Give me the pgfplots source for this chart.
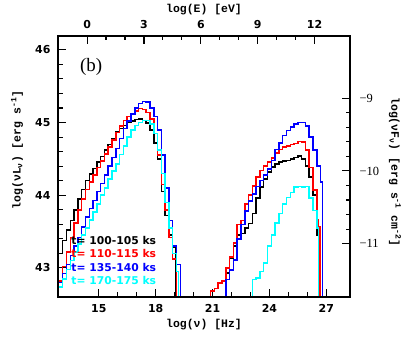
\documentclass[border=0pt]{standalone}
\usepackage{fontspec}
\usepackage{pgfplots}
\pgfplotsset{compat=1.18}
\setmainfont{DejaVu Sans}
\newfontfamily\labfont{Liberation Mono}
\newfontfamily\serifont{Liberation Serif}
\definecolor{cy}{rgb}{0,1,1}
\definecolor{rd}{rgb}{1,0,0}
\definecolor{bl}{rgb}{0,0,1}

\pgfplotsset{
  sedbox/.style={
    scale only axis, width=292bp, height=261bp,
    at={(0,0)}, anchor=south west,
    tick align=inside,
    major tick length=8bp, minor tick length=4.5bp,
    tick style={black, line width=1.1bp},
    minor tick style={black, line width=1.1bp},
    axis line style={line width=1.3bp},
    tick label style={font=\fontsize{11}{13}\selectfont\bfseries},
    label style={font=\fontsize{11.5}{13}\selectfont\labfont\bfseries},
    /pgf/number format/assume math mode=true,
  },
  hist/.style={const plot, line width=1.5bp},
}

\begin{document}
\begin{tikzpicture}
\path[use as bounding box] (-58bp,-40bp) rectangle (349bp,297bp);

% main axis: log(nu) vs log(nu L_nu)
\begin{axis}[sedbox,
  xmin=12.85, xmax=28.25, ymin=42.6, ymax=46.19,
  xtick={15,18,21,24,27}, minor x tick num=2,
  ytick={43,44,45,46}, minor y tick num=4,
  xtick pos=left, ytick pos=left,
  xticklabel style={yshift=-4bp},
  yticklabel style={xshift=-4bp},
  xlabel={log(ν) [Hz]},
  ylabel={log(νL\textsubscript{ν}) [erg s\textsuperscript{-1}]},
  xlabel style={at={(axis description cs:0.5,-0.1073)}, anchor=center},
  ylabel style={at={(axis description cs:-0.1404,0.563)}, anchor=center},
]
% synchrotron hump
\addplot[hist, black] coordinates {
(12.8,43.20)(13.1,43.38)(13.3,43.52)(13.5,43.65)(13.7,43.80)(13.9,43.95)(14.1,44.08)(14.3,44.20)
(14.5,44.29)(14.7,44.37)(14.9,44.46)(15.1,44.53)(15.3,44.62)(15.5,44.70)(15.7,44.78)(15.9,44.87)
(16.1,44.92)(16.3,44.96)(16.5,45.00)(16.7,45.02)(16.9,45.04)(17.1,45.05)(17.3,45.03)(17.5,44.99)
(17.7,44.90)(17.9,44.72)(18.1,44.50)(18.3,44.05)(18.5,43.72)(18.7,43.45)(18.9,43.28)(19.05,42.0)
};
\addplot[hist, rd] coordinates {
(12.8,42.82)(13.1,43.02)(13.3,43.22)(13.5,43.42)(13.7,43.62)(13.9,43.80)(14.1,43.95)(14.3,44.08)
(14.5,44.18)(14.7,44.28)(14.9,44.38)(15.1,44.47)(15.3,44.57)(15.5,44.66)(15.7,44.76)(15.9,44.86)
(16.1,44.95)(16.3,45.03)(16.5,45.08)(16.7,45.12)(16.9,45.16)(17.1,45.19)(17.3,45.18)(17.5,45.14)
(17.7,45.05)(17.9,44.85)(18.1,44.55)(18.3,44.15)(18.5,43.80)(18.7,43.42)(18.9,43.12)(19.1,42.0)
};
\addplot[hist, bl] coordinates {
(12.8,42.80)(13.1,42.92)(13.3,43.05)(13.5,43.17)(13.7,43.30)(13.9,43.42)(14.1,43.56)(14.3,43.70)
(14.5,43.82)(14.7,43.93)(14.9,44.05)(15.1,44.16)(15.3,44.28)(15.5,44.40)(15.7,44.52)(15.9,44.64)
(16.1,44.78)(16.3,44.92)(16.5,45.02)(16.7,45.12)(16.9,45.20)(17.1,45.26)(17.3,45.29)(17.5,45.28)
(17.7,45.20)(17.9,45.08)(18.1,44.90)(18.3,44.55)(18.5,44.10)(18.7,43.65)(18.9,43.30)(19.1,43.05)
(19.3,42.0)
};
\addplot[hist, cy] coordinates {
(12.8,42.74)(13.1,42.85)(13.3,42.98)(13.5,43.10)(13.7,43.22)(13.9,43.33)(14.1,43.45)(14.3,43.55)
(14.5,43.66)(14.7,43.77)(14.9,43.88)(15.1,44.00)(15.3,44.10)(15.5,44.22)(15.7,44.33)(15.9,44.43)
(16.1,44.56)(16.3,44.68)(16.5,44.80)(16.7,44.90)(16.9,44.96)(17.1,45.00)(17.3,45.03)(17.5,45.03)
(17.7,44.98)(17.9,44.85)(18.1,44.62)(18.3,44.30)(18.5,43.90)(18.7,43.55)(18.9,43.20)(19.1,42.95)
(19.2,42.0)
};
% inverse Compton hump
\addplot[hist, black] coordinates {
(21.7,42.0)(21.7,42.93)(21.9,43.13)(22.1,43.30)(22.3,43.45)(22.5,43.47)(22.7,43.55)(22.9,43.61)
(23.1,43.75)(23.3,43.96)(23.5,44.11)(23.7,44.22)(23.9,44.32)(24.1,44.39)(24.3,44.43)(24.5,44.46)
(24.7,44.47)(24.9,44.48)(25.1,44.50)(25.3,44.52)(25.5,44.54)(25.7,44.50)(25.9,44.40)(26.1,44.25)
(26.3,44.00)(26.5,43.45)(26.6,42.0)
};
\addplot[hist, rd] coordinates {
(20.9,42.0)(20.9,42.68)(21.1,42.72)(21.3,42.79)(21.5,42.82)(21.7,43.00)(21.9,43.15)(22.1,43.34)
(22.3,43.60)(22.5,43.65)(22.7,43.88)(22.9,44.00)(23.1,44.13)(23.3,44.25)(23.5,44.34)(23.7,44.40)
(23.9,44.46)(24.1,44.51)(24.3,44.58)(24.5,44.63)(24.7,44.66)(24.9,44.68)(25.1,44.70)(25.3,44.71)
(25.5,44.74)(25.7,44.73)(25.9,44.62)(26.1,44.38)(26.3,44.07)(26.5,43.66)(26.6,43.57)(26.68,42.0)
};
\addplot[hist, bl] coordinates {
(21.7,42.0)(21.7,42.84)(21.9,42.97)(22.1,43.11)(22.3,43.40)(22.5,43.60)(22.7,43.78)(22.9,43.92)
(23.1,44.02)(23.3,44.12)(23.5,44.20)(23.7,44.28)(23.9,44.36)(24.1,44.48)(24.3,44.63)(24.5,44.72)
(24.7,44.82)(24.9,44.89)(25.1,44.94)(25.3,44.98)(25.5,45.00)(25.7,45.00)(25.9,44.95)(26.1,44.80)
(26.3,44.62)(26.5,44.40)(26.7,44.18)(26.8,42.0)
};
\addplot[hist, cy] coordinates {
(23.1,42.0)(23.1,42.84)(23.3,42.86)(23.5,42.95)(23.7,43.07)(23.9,43.30)(24.1,43.45)(24.3,43.62)
(24.5,43.75)(24.7,43.88)(24.9,43.97)(25.1,44.04)(25.3,44.11)(25.5,44.12)(25.7,44.11)(25.9,44.12)
(26.1,43.96)(26.3,43.79)(26.5,43.55)(26.6,42.0)
};

\node[font=\serifont\fontsize{19}{21}\selectfont] at (axis cs:14.6,45.77) {(b)};
\begin{scope}[every node/.style={anchor=west, inner sep=0pt, font=\fontsize{10.8}{12}\selectfont\bfseries}]
\node[text=black] at (axis cs:13.55,43.38) {t= 100-105 ks};
\node[text=rd]    at (axis cs:13.55,43.195) {t= 110-115 ks};
\node[text=bl]    at (axis cs:13.55,43.01) {t= 135-140 ks};
\node[text=cy]    at (axis cs:13.55,42.83) {t= 170-175 ks};
\end{scope}
\end{axis}

% secondary axis: log(E) on top, log(nu F_nu) on the right
\begin{axis}[sedbox,
  xmin=-1.533, xmax=13.867, ymin=-11.734, ymax=-8.144,
  xtick={0,3,6,9,12}, minor x tick num=2,
  ytick={-11,-10,-9}, yticklabels={−11,−10,−9},
  minor y tick num=4,
  xtick pos=right, xticklabel pos=right,
  ytick pos=right, yticklabel pos=right,
  xticklabel style={yshift=4bp},
  yticklabel style={xshift=6bp, font=\serifont\fontsize{12.5}{14}\selectfont},
  xlabel={log(E) [eV]},
  ylabel={log(νF\textsubscript{ν}) [erg s\textsuperscript{-1} cm\textsuperscript{-2}]},
  xlabel style={at={(axis description cs:0.5,1.0996)}, anchor=center},
  ylabel style={at={(axis description cs:1.154,0.479)}, anchor=center, rotate=180},
]
\end{axis}
\end{tikzpicture}
\end{document}
